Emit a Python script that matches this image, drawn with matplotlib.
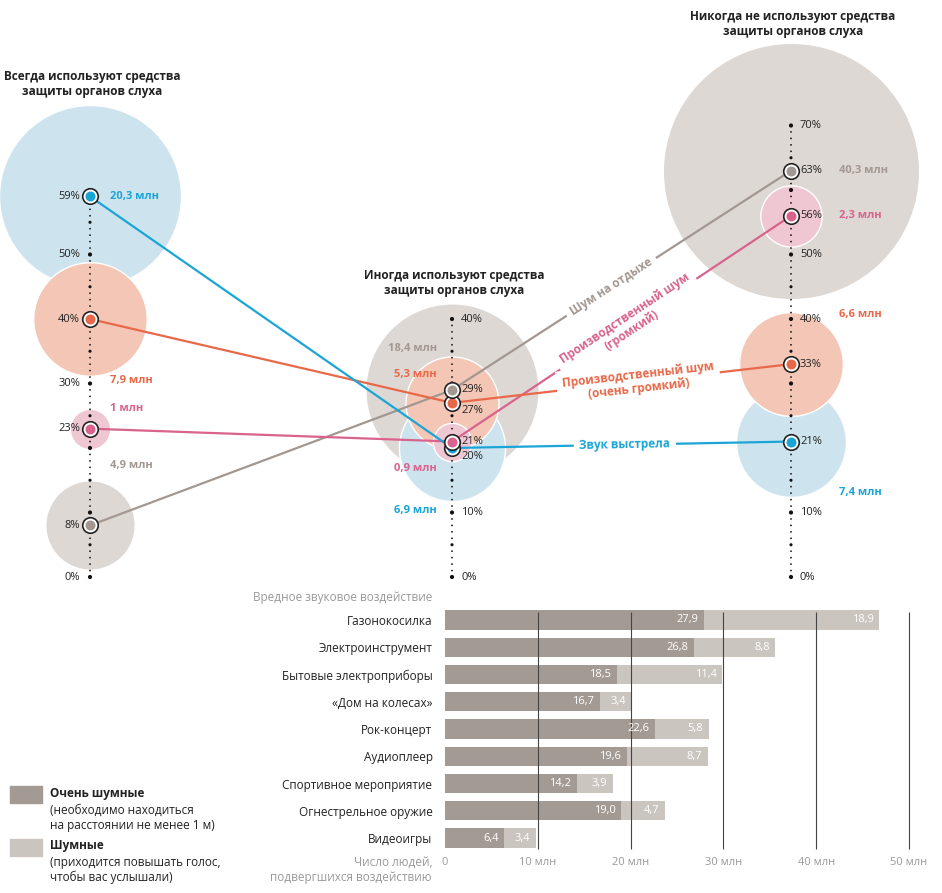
import numpy as np
import matplotlib.pyplot as plt
from matplotlib.patches import Rectangle

plt.rcParams['font.family'] = ['Open Sans', 'DejaVu Sans']

W, H = 942, 893

# --- top part: share (%) and number (mln) of exposed people by protection habit
series_names = ['Шум на отдыхе', 'Производственный шум\n(громкий)',
                'Производственный шум\n(очень громкий)', 'Звук выстрела']
line_colors = ['#a39791', '#d9638d', '#e8694a', '#1ba5d6']
fill_colors = ['#ddd8d4', '#efc7d3', '#f4c6b6', '#cde4ef']

always_pct = [8, 23, 40, 59]
always_mln = [4.9, 1.0, 7.9, 20.3]
sometimes_pct = [29, 21, 27, 20]
sometimes_mln = [18.4, 0.9, 5.3, 6.9]
never_pct = [63, 56, 33, 21]
never_mln = [40.3, 2.3, 6.6, 7.4]

group_titles = ['Всегда используют средства\nзащиты органов слуха',
                'Иногда используют средства\nзащиты органов слуха',
                'Никогда не используют средства\nзащиты органов слуха']
axis_top = [60, 40, 70]
axis_labels = [[0, 30, 50], [0, 10, 40], [0, 10, 40, 50, 70]]

# --- bottom part: harmful noise sources, mln people
categories = ['Газонокосилка', 'Электроинструмент', 'Бытовые электроприборы',
              '«Дом на колесах»', 'Рок-концерт', 'Аудиоплеер',
              'Спортивное мероприятие', 'Огнестрельное оружие', 'Видеоигры']
very_loud = [27.9, 26.8, 18.5, 16.7, 22.6, 19.6, 14.2, 19.0, 6.4]
loud = [18.9, 8.8, 11.4, 3.4, 5.8, 8.7, 3.9, 4.7, 3.4]
x_ticks = [0, 10, 20, 30, 40, 50]
x_ticklabels = ['0', '10 млн', '20 млн', '30 млн', '40 млн', '50 млн']


def fmt(v):
    if v >= 1 and v == int(v):
        return f'{int(v)} млн'
    return f'{v:.1f}'.replace('.', ',') + ' млн'


def fx(x):
    return x / W


def fy(y):
    return 1 - y / H


fig = plt.figure(figsize=(W / 100, H / 100), dpi=100)

# top axes: x in pixels, y in percent (0% at pixel row 577, 6.45 px per %)
ax = fig.add_axes([0, 0, 1, 1])
ax.set_xlim(0, W)
ax.set_ylim((577 - H) / 6.45, 577 / 6.45)
ax.axis('off')

col_x = [90, 452, 791]
pcts = [always_pct, sometimes_pct, never_pct]
mlns = [always_mln, sometimes_mln, never_mln]

# offsets (px) of the "млн" labels from each dot, and their alignment
mln_offsets = [
    [(20, 60, 'left'), (20, 20, 'left'), (20, -62, 'left'), (20, 0, 'left')],
    [(-15, 41, 'right'), (-15, -27, 'right'), (-15, 28, 'right'), (-15, -62, 'right')],
    [(48, 0, 'left'), (48, 0, 'left'), (48, 50, 'left'), (48, -51, 'left')],
]
pct_offsets = [
    [(-10, 0), (-10, 0), (-10, 0), (-10, 0)],
    [(9, 0), (9, 0), (9, -8), (9, -8)],
    [(9, 0), (9, 0), (9, 0), (9, 0)],
]

for c in range(3):
    x = col_x[c]
    # bubbles, biggest first
    order = np.argsort(mlns[c])[::-1]
    for i in order:
        ax.scatter(x, pcts[c][i], s=846 * mlns[c][i], color=fill_colors[i],
                   edgecolor='white', linewidth=1, zorder=1)
    # dotted axis: small dot each 1 %, bigger at 5 % and 10 %
    steps = np.arange(0, axis_top[c] + 1)
    sizes = np.where(steps % 10 == 0, 9, np.where(steps % 5 == 0, 5, 1.6))
    ax.scatter([x] * len(steps), steps, s=sizes, color='#111', linewidth=0, zorder=2)
    ha = 'right' if c == 0 else 'left'
    dx = -10 if c == 0 else 9
    for t in axis_labels[c]:
        ax.annotate(f'{t}%', (x, t), xytext=(dx * 0.72, 0), textcoords='offset points',
                    ha=ha, va='center', fontsize=8, color='#222')
    # data labels
    for i in range(4):
        ox, oy = pct_offsets[c][i]
        ax.annotate(f'{pcts[c][i]}%', (x, pcts[c][i]), xytext=(ox * 0.72, oy * 0.72),
                    textcoords='offset points', ha=ha, va='center',
                    fontsize=8, color='#222', zorder=6)
        mx, my, mha = mln_offsets[c][i]
        ax.annotate(fmt(mlns[c][i]), (x, pcts[c][i]), xytext=(mx * 0.72, my * 0.72),
                    textcoords='offset points', ha=mha, va='center',
                    fontsize=8, fontweight='bold', color=line_colors[i], zorder=6)
    fig.text(fx(x + 2), fy([84, 283, 24][c]), group_titles[c],
             ha='center', va='center', fontsize=8.5, fontweight='bold',
             color='#222', linespacing=1.25)

# connecting lines and labels
label_t = [0.47, 0.52, 0.55, 0.51]
for i in range(4):
    ys = [always_pct[i], sometimes_pct[i], never_pct[i]]
    ax.plot(col_x, ys, color=line_colors[i], lw=1.6, zorder=3)
    p0 = ax.transData.transform((col_x[1], ys[1]))
    p1 = ax.transData.transform((col_x[2], ys[2]))
    ang = np.degrees(np.arctan2(p1[1] - p0[1], p1[0] - p0[0]))
    t = label_t[i]
    lx = col_x[1] + t * (col_x[2] - col_x[1])
    ly = ys[1] + t * (ys[2] - ys[1])
    ax.text(lx, ly, series_names[i], rotation=ang, rotation_mode='anchor',
            ha='center', va='center', fontsize=8.5, fontweight='bold',
            color=line_colors[i], linespacing=1.1, zorder=4,
            bbox=dict(facecolor='white', edgecolor='none', pad=4))

# dots: orange, gray, blue, pink (so pink sits over blue, gray over orange)
for i in [2, 0, 3, 1]:
    ys = [always_pct[i], sometimes_pct[i], never_pct[i]]
    ax.scatter(col_x, ys, s=125, facecolor='white', edgecolor='#222',
               linewidth=1.2, zorder=5)
    ax.scatter(col_x, ys, s=52, color=line_colors[i], linewidth=0, zorder=5)

# bottom bar chart
dark = '#a39a93'
light = '#cbc5c0'
ax2 = fig.add_axes([fx(445), fy(851), fx(909) - fx(445), (851 - 607) / H])
ypos = np.arange(len(categories))
ax2.barh(ypos, very_loud, height=0.7, color=dark, zorder=1)
ax2.barh(ypos, loud, left=very_loud, height=0.7, color=light, zorder=1)
for i in ypos:
    ax2.annotate(f'{very_loud[i]:.1f}'.replace('.', ','), (very_loud[i], i),
                 xytext=(-4, 0), textcoords='offset points', ha='right', va='center',
                 fontsize=8, color='white', zorder=4)
    ax2.annotate(f'{loud[i]:.1f}'.replace('.', ','), (very_loud[i] + loud[i], i),
                 xytext=(-4, 0), textcoords='offset points', ha='right', va='center',
                 fontsize=8, color='white', zorder=4)
ax2.vlines(x_ticks[1:], -0.3, 8.4, color='#444', lw=0.8, zorder=3, clip_on=False)
ax2.set_xlim(0, 50)
ax2.set_ylim(8.477, -0.477)
ax2.set_xticks(x_ticks)
ax2.set_xticklabels(x_ticklabels, fontsize=8, color='#999')
ax2.set_yticks(ypos)
ax2.set_yticklabels(categories, fontsize=8.5, color='#222')
ax2.tick_params(length=0)
ax2.tick_params(axis='y', pad=9)
ax2.tick_params(axis='x', pad=4)
for s in ax2.spines.values():
    s.set_visible(False)
ax2.patch.set_alpha(0)

fig.text(fx(432), fy(597), 'Вредное звуковое воздействие', ha='right', va='center',
         fontsize=8.5, color='#999')
fig.text(fx(432), fy(870), 'Число людей,\nподвергшихся воздействию', ha='right',
         va='center', fontsize=8.5, color='#999', linespacing=1.2)

# legend
fig.patches.append(Rectangle((fx(10), fy(803)), fx(32), 17 / H, color=dark,
                             transform=fig.transFigure))
fig.patches.append(Rectangle((fx(10), fy(856)), fx(32), 17 / H, color=light,
                             transform=fig.transFigure))
fig.text(fx(50), fy(793), 'Очень шумные', fontsize=8.5, fontweight='bold',
         color='#222', va='center')
fig.text(fx(50), fy(818), '(необходимо находиться\nна расстоянии не менее 1 м)',
         fontsize=8.5, color='#222', va='center', linespacing=1.2)
fig.text(fx(50), fy(846), 'Шумные', fontsize=8.5, fontweight='bold',
         color='#222', va='center')
fig.text(fx(50), fy(870), '(приходится повышать голос,\nчтобы вас услышали)',
         fontsize=8.5, color='#222', va='center', linespacing=1.2)

fig.savefig('out.png', dpi=100)
